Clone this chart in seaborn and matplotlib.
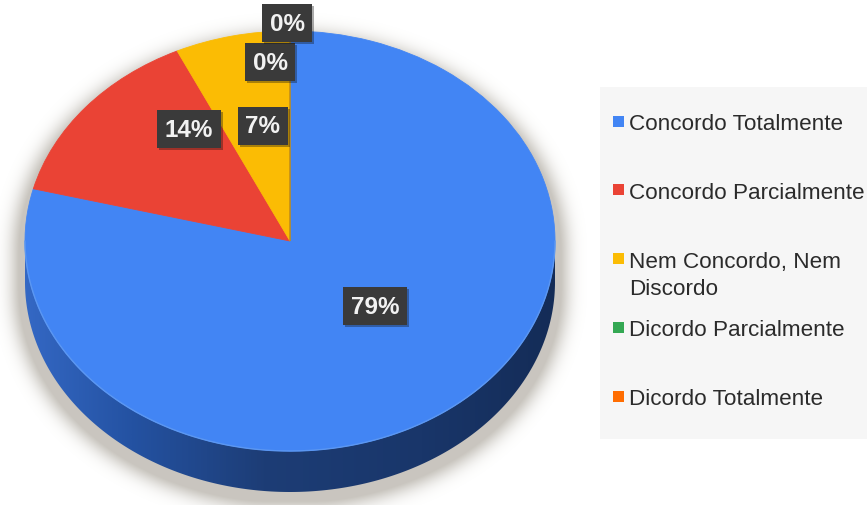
import textwrap
import numpy as np
import matplotlib
matplotlib.use("Agg")
import matplotlib.pyplot as plt
import matplotlib.patheffects as pe
from matplotlib.patches import Polygon, Rectangle
from matplotlib.colors import LinearSegmentedColormap
import seaborn as sns

# --- data -------------------------------------------------------------
categories = ["Concordo Totalmente", "Concordo Parcialmente",
              "Nem Concordo, Nem Discordo", "Dicordo Parcialmente",
              "Dicordo Totalmente"]
percent = [79, 14, 7, 0, 0]
slice_colors = ["#4285f4", "#ea4335", "#fbbc04", "#34a853", "#ff6d01"]

# --- style --------------------------------------------------------------
sns.set_theme(style="white")
plt.rcParams["font.family"] = ["Liberation Sans", "DejaVu Sans"]
palette = sns.color_palette(slice_colors)

W, H, DPI = 867, 506, 100
fig = plt.figure(figsize=(W / DPI, H / DPI), dpi=DPI)
fig.patch.set_facecolor("white")

# pie geometry in pixels (top face ellipse + rim depth)
CX, CY, RX, RY, DEPTH = 290, 242, 265, 210, 41
d = DEPTH / RY

ax = fig.add_axes([0, 0, 1, 1])
xlim = (-CX / RX, (W - CX) / RX)
ylim = ((CY - H) / RY, CY / RY)

# --- soft drop shadow ---------------------------------------------------
yy, xx = np.mgrid[0:H, 0:W] + 0.5
grow, off = 10, 9
ex = (xx - CX) / (RX + grow)
ry = RY + grow * 0.6
top_in = ex ** 2 + ((CY + off - yy) / ry) ** 2 <= 1
bot_in = ex ** 2 + ((CY + off + DEPTH - yy) / ry) ** 2 <= 1
band_in = (np.abs(ex) <= 1) & (yy >= CY + off) & (yy <= CY + off + DEPTH)
mask = (top_in | bot_in | band_in).astype(float)
sig = 9.0
kx = np.arange(-3 * int(sig), 3 * int(sig) + 1)
kern = np.exp(-kx ** 2 / (2 * sig ** 2))
kern /= kern.sum()
blur = np.apply_along_axis(lambda r: np.convolve(r, kern, mode="same"), 1, mask)
blur = np.apply_along_axis(lambda c: np.convolve(c, kern, mode="same"), 0, blur)
shadow = np.zeros((H, W, 4))
shadow[..., 0] = 0.58
shadow[..., 1] = 0.55
shadow[..., 2] = 0.50
shadow[..., 3] = np.clip(blur * 0.75, 0, 0.5)
ax.imshow(shadow, extent=(xlim[0], xlim[1], ylim[0], ylim[1]),
          origin="upper", aspect="auto", zorder=0, interpolation="bilinear")

# --- rim (front side of the disc) --------------------------------------
t = np.linspace(np.pi, 2 * np.pi, 300)
rim_xy = np.concatenate([np.c_[np.cos(t), np.sin(t)],
                         np.c_[np.cos(t[::-1]), np.sin(t[::-1]) - d]])
rim = Polygon(rim_xy, closed=True, facecolor="none", edgecolor="none")
ax.add_patch(rim)
rim_cmap = LinearSegmentedColormap.from_list(
    "rim", [(0.0, "#3468c4"), (0.2, "#2452a2"), (0.45, "#1d3d76"),
            (0.75, "#19366a"), (1.0, "#142c57")])
grad = np.linspace(0, 1, 512)[None, :]
im = ax.imshow(grad, cmap=rim_cmap, extent=(-1, 1, -1 - d, 0),
               aspect="auto", zorder=1, interpolation="bilinear")
im.set_clip_path(rim)

# --- top face -----------------------------------------------------------
wedges, _ = ax.pie(percent, colors=palette, startangle=90, counterclock=False,
                   radius=1, wedgeprops=dict(linewidth=0.6, zorder=2))
for w, c in zip(wedges, palette):
    w.set_edgecolor(c)
    w.set_zorder(2)
ax.plot(np.cos(t), np.sin(t), color="#5b97f2", lw=1.0, zorder=3)

ax.set_aspect("auto")
ax.set_xlim(*xlim)
ax.set_ylim(*ylim)
ax.axis("off")

# --- value labels -------------------------------------------------------
label_xy = [(0.321, -0.310), (-0.381, 0.533), (-0.102, 0.548),
            (-0.075, 0.852), (-0.011, 1.038)]
for (lx, ly), p in zip(label_xy, percent):
    txt = ax.text(lx, ly, f"{p}%", ha="center", va="center",
                  fontsize=17.5, fontweight="bold", color="#f2f2f2",
                  zorder=6,
                  bbox=dict(boxstyle="square,pad=0.32", fc="#3a3a3a", ec="none"))
    txt.get_bbox_patch().set_path_effects(
        [pe.SimplePatchShadow(offset=(1.5, -1.5), alpha=0.35), pe.Normal()])

# --- legend (fixed row pitch, wrapped lines hang below) -----------------
fig.patches.append(Rectangle((600 / W, 1 - 440 / H), (W - 600) / W,
                             (440 - 88) / H, transform=fig.transFigure,
                             facecolor="#f6f6f6", edgecolor="none", zorder=0))
row0, pitch, line_h, sq = 122, 68.8, 27, 11
for i, (name, c) in enumerate(zip(categories, palette)):
    yc = row0 + pitch * i
    fig.patches.append(Rectangle(((618 - sq / 2) / W, 1 - (yc + sq / 2) / H),
                                 sq / W, sq / H, transform=fig.transFigure,
                                 facecolor=c, edgecolor="none", zorder=2))
    for j, line in enumerate(textwrap.wrap(name, width=21)):
        fig.text(629 / W, 1 - (yc + 8 + line_h * j) / H, line,
                 ha="left", va="baseline", fontsize=16.2, color="#2b2b2b")

fig.savefig("out.png", dpi=DPI, facecolor="white")
